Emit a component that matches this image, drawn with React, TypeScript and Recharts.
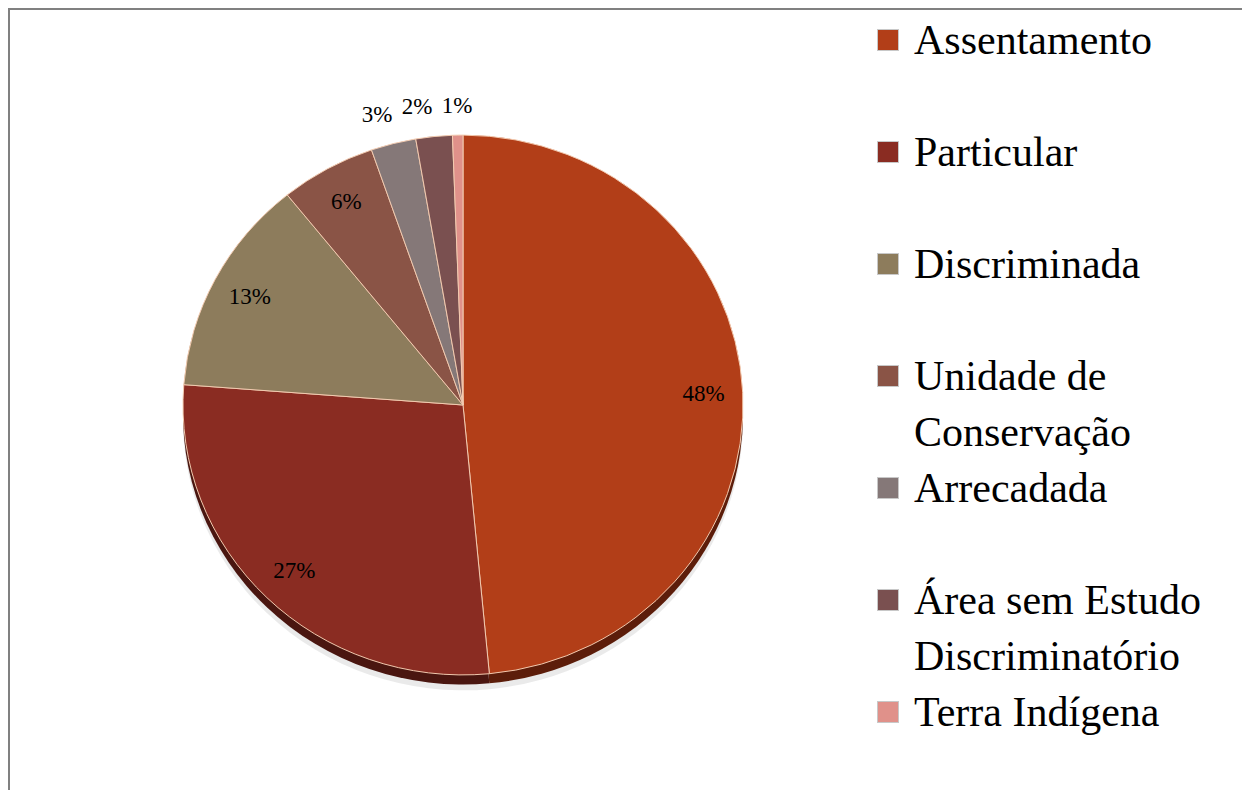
import React from 'react';
import { PieChart, Pie, Cell } from 'recharts';

const categories = [
  'Assentamento',
  'Particular',
  'Discriminada',
  'Unidade de Conservação',
  'Arrecadada',
  'Área sem Estudo Discriminatório',
  'Terra Indígena',
];
const values = [48.5, 27.7, 13.0, 5.5, 2.6, 2.1, 0.6];
const labels = ['48%', '27%', '13%', '6%', '3%', '2%', '1%'];
const colors = ['#B23E18', '#8A2C22', '#8D7C5C', '#8A5446', '#857878', '#7A5050', '#E0918A'];
const sideColors = ['#5C1D0A', '#4A1610', '#4E4432', '#4C2E26', '#4A4242', '#432B2B', '#8A5A55'];

const data = categories.map((name, i) => ({ name, value: values[i], label: labels[i] }));

const FONT = '"Liberation Serif", "Times New Roman", serif';
const RADIAN = Math.PI / 180;
const START = 90;
const SMALL = 5;
const OUT_OFFSET = 31;
const MIN_GAP = 40;

const total = values.reduce((a, b) => a + b, 0);
const midAngles: number[] = [];
{
  let acc = 0;
  values.forEach((v) => {
    midAngles.push(START - ((acc + v / 2) / total) * 360);
    acc += v;
  });
}

// horizontal de-overlap for the small outside labels (right to left)
const outsideDx = (R: number) => {
  const dx: number[] = values.map((v, i) => (R + OUT_OFFSET) * Math.cos(midAngles[i] * RADIAN));
  for (let i = values.length - 2; i >= 0; i--) {
    if (values[i] < SMALL && values[i + 1] < SMALL) {
      dx[i] = Math.min(dx[i], dx[i + 1] - MIN_GAP);
    }
  }
  return dx;
};

const renderLabel = (props: any) => {
  const { cx, cy, midAngle, outerRadius, index } = props;
  const v = values[index];
  let x: number;
  let y: number;
  if (v >= SMALL) {
    const r = outerRadius * 0.86;
    x = cx + r * Math.cos(-midAngle * RADIAN);
    y = cy + r * Math.sin(-midAngle * RADIAN);
  } else {
    const r = outerRadius + OUT_OFFSET;
    x = cx + outsideDx(outerRadius)[index];
    y = cy + r * Math.sin(-midAngle * RADIAN);
  }
  return (
    <text
      x={x}
      y={y}
      fill="#000"
      textAnchor="middle"
      dominantBaseline="central"
      style={{ fontFamily: FONT, fontSize: 23 }}
    >
      {labels[index]}
    </text>
  );
};

export default function App() {
  const CX = 455;
  const CY = 397;
  const R = 280;
  return (
    <div
      style={{
        position: 'relative',
        width: 1242,
        height: 782,
        borderTop: '2px solid #808080',
        borderLeft: '2px solid #808080',
        boxSizing: 'border-box',
        overflow: 'hidden',
        background: '#fff',
      }}
    >
      <div
        style={{
          position: 'absolute',
          left: -2,
          top: -2,
          width: 860,
          height: 782,
          transform: 'scaleY(0.964)',
          transformOrigin: `0px ${CY}px`,
        }}
      >
        <PieChart width={860} height={782} margin={{ top: 0, right: 0, bottom: 0, left: 0 }}>
          <Pie
            data={data}
            dataKey="value"
            nameKey="name"
            cx={CX}
            cy={CY + 16}
            outerRadius={R}
            startAngle={START}
            endAngle={START - 360}
            stroke="none"
            isAnimationActive={false}
            legendType="none"
          >
            {data.map((d, i) => (
              <Cell key={`sh-${i}`} fill="#8a8a8a" fillOpacity={0.18} />
            ))}
          </Pie>
          <Pie
            data={data}
            dataKey="value"
            nameKey="name"
            cx={CX}
            cy={CY + 10}
            outerRadius={R}
            startAngle={START}
            endAngle={START - 360}
            stroke="none"
            isAnimationActive={false}
            legendType="none"
          >
            {data.map((d, i) => (
              <Cell key={`side-${i}`} fill={sideColors[i]} />
            ))}
          </Pie>
          <Pie
            data={data}
            dataKey="value"
            nameKey="name"
            cx={CX}
            cy={CY}
            outerRadius={R}
            startAngle={START}
            endAngle={START - 360}
            stroke="#F3CBB0"
            strokeWidth={1}
            label={renderLabel}
            labelLine={false}
            isAnimationActive={false}
          >
            {data.map((d, i) => (
              <Cell key={`c-${i}`} fill={colors[i]} />
            ))}
          </Pie>
        </PieChart>
      </div>
      <div style={{ position: 'absolute', left: 867, top: 0, width: 370 }}>
        {categories.map((name, i) => (
          <div
            key={name}
            style={{
              position: 'absolute',
              top: 2 + 112 * i,
              left: 0,
              width: 370,
              height: 112,
            }}
          >
            <div
              style={{
                position: 'absolute',
                left: 0,
                top: 17,
                width: 22,
                height: 22,
                background: colors[i],
                border: '1px solid #c8c8c8',
                boxSizing: 'border-box',
              }}
            />
            <div
              style={{
                position: 'absolute',
                left: 37,
                top: 0,
                width: 325,
                fontFamily: FONT,
                fontSize: 42,
                lineHeight: '56px',
                color: '#000',
                whiteSpace: 'normal',
              }}
            >
              {name}
            </div>
          </div>
        ))}
      </div>
    </div>
  );
}
